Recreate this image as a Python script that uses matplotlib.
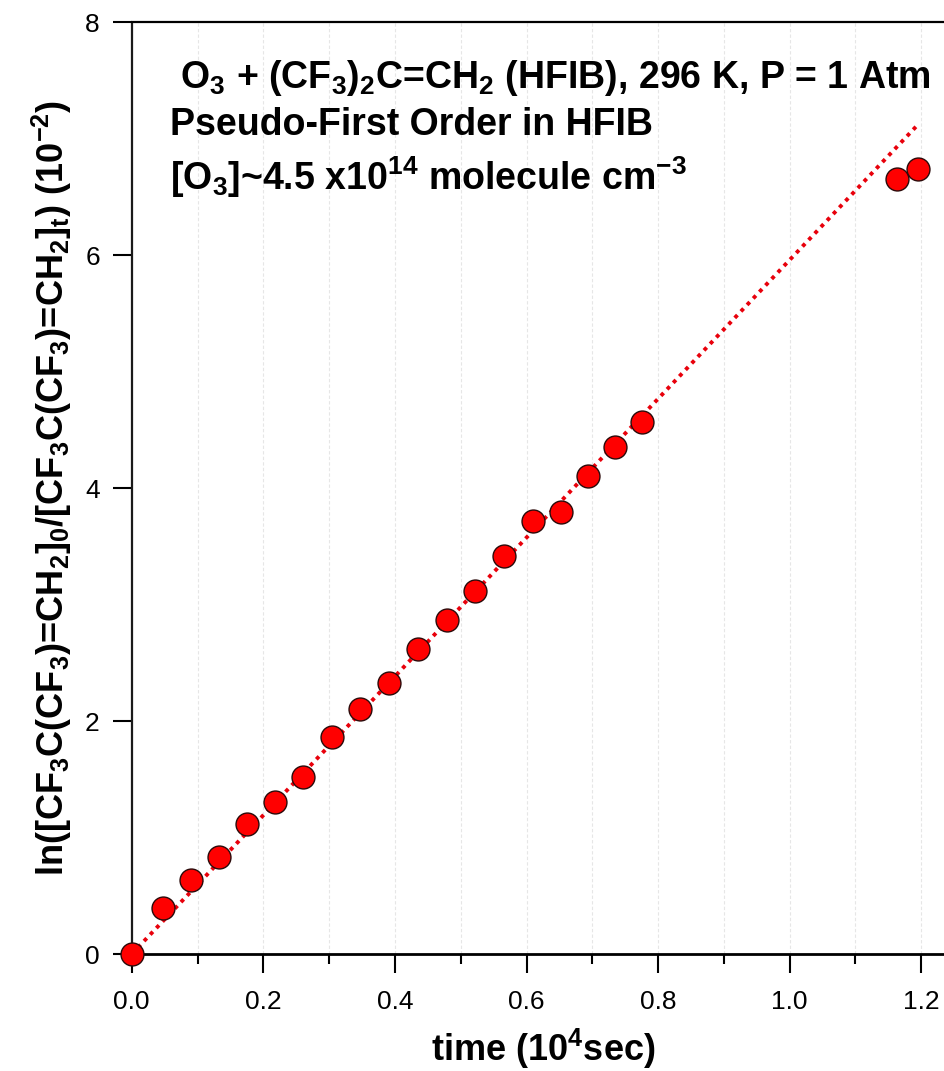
#!/usr/bin/env python
'''
ln([HFIB]0/[HFIB]t) vs time, O3 + HFIB pseudo-first order run
'''
import numpy
import matplotlib
matplotlib.use("Agg")
import matplotlib.pyplot as plt
from matplotlib.ticker import MultipleLocator, FormatStrFormatter

# time in 10^4 s, ln ratio in 10^-2
time_s = [0.0, 0.048, 0.0897, 0.1327, 0.1748, 0.2178, 0.2599, 0.3049, 0.347,
          0.3915, 0.4347, 0.4787, 0.5217, 0.5663, 0.6103, 0.652, 0.693,
          0.7345, 0.775, 1.1635, 1.1955]
ln_ratio = [0.0, 0.392, 0.635, 0.830, 1.113, 1.302, 1.522, 1.865, 2.100,
            2.329, 2.615, 2.867, 3.116, 3.416, 3.719, 3.791, 4.106,
            4.349, 4.569, 6.655, 6.741]

# linear fit drawn as dotted line
fit_time = [0.0, 1.195]
fit_ln = [0.0, 7.12]

notes = [r' O$_3$ + (CF$_3$)$_2$C=CH$_2$ (HFIB), 296 K, P = 1 Atm',
         r'Pseudo-First Order in HFIB',
         r'[O$_3$]~4.5 x10$^{14}$ molecule cm$^{-3}$']

plt.rcParams['font.family'] = ['Liberation Sans', 'DejaVu Sans']
plt.rcParams['mathtext.fontset'] = 'custom'
plt.rcParams['mathtext.rm'] = 'Liberation Sans:bold'
plt.rcParams['mathtext.it'] = 'Liberation Sans:bold'
plt.rcParams['mathtext.bf'] = 'Liberation Sans:bold'

fig = plt.figure(figsize=(9.45, 10.71), dpi=100)
ax = fig.add_axes([0.1394, 0.1092, 0.8703, 0.8702])

ax.plot(fit_time, fit_ln, color='#e8000b', lw=2.8, dashes=(1.0, 1.3),
        dash_capstyle='butt', zorder=2)
ax.plot(time_s, ln_ratio, 'o', ms=16.5, mfc='#ff0000', mec='#2a0a0a',
        mew=1.0, zorder=3, clip_on=False)

ax.set_xlim(0, 1.25)
ax.set_ylim(0, 8)
ax.xaxis.set_major_locator(MultipleLocator(0.2))
ax.xaxis.set_minor_locator(MultipleLocator(0.1))
ax.yaxis.set_major_locator(MultipleLocator(2))
ax.xaxis.set_major_formatter(FormatStrFormatter('%.1f'))

ax.grid(True, axis='x', which='both', color='#e6e6e6', lw=0.8, ls=(0, (3, 2)))
ax.set_axisbelow(True)

ax.tick_params(axis='both', which='major', direction='out', length=14,
               width=1.5, labelsize=19, color='black')
ax.tick_params(axis='x', which='major', pad=12)
ax.tick_params(axis='y', which='major', pad=9)
ax.tick_params(axis='x', which='minor', direction='out', length=7, width=1.5)

ax.spines['left'].set_linestyle((0, (1, 1)))
ax.spines['left'].set_linewidth(1.6)
ax.spines['left'].set_color('#1a1a1a')
ax.spines['bottom'].set_linewidth(2.0)
ax.spines['top'].set_linewidth(1.6)
ax.spines['right'].set_visible(False)

ax.set_xlabel(r'time (10$^4$sec)', fontsize=26, fontweight='bold', labelpad=9)
ax.set_ylabel(r'ln([CF$_3$C(CF$_3$)=CH$_2$]$_0$/[CF$_3$C(CF$_3$)=CH$_2$]$_t$) (10$^{-2}$)',
              fontsize=26, fontweight='bold', labelpad=8)

ny = [7.43, 7.03, 6.56]
for txt, yy in zip(notes, ny):
    ax.text(0.058, yy, txt, fontsize=27, fontweight='bold', va='baseline')

plt.savefig('out.png', dpi=100)
